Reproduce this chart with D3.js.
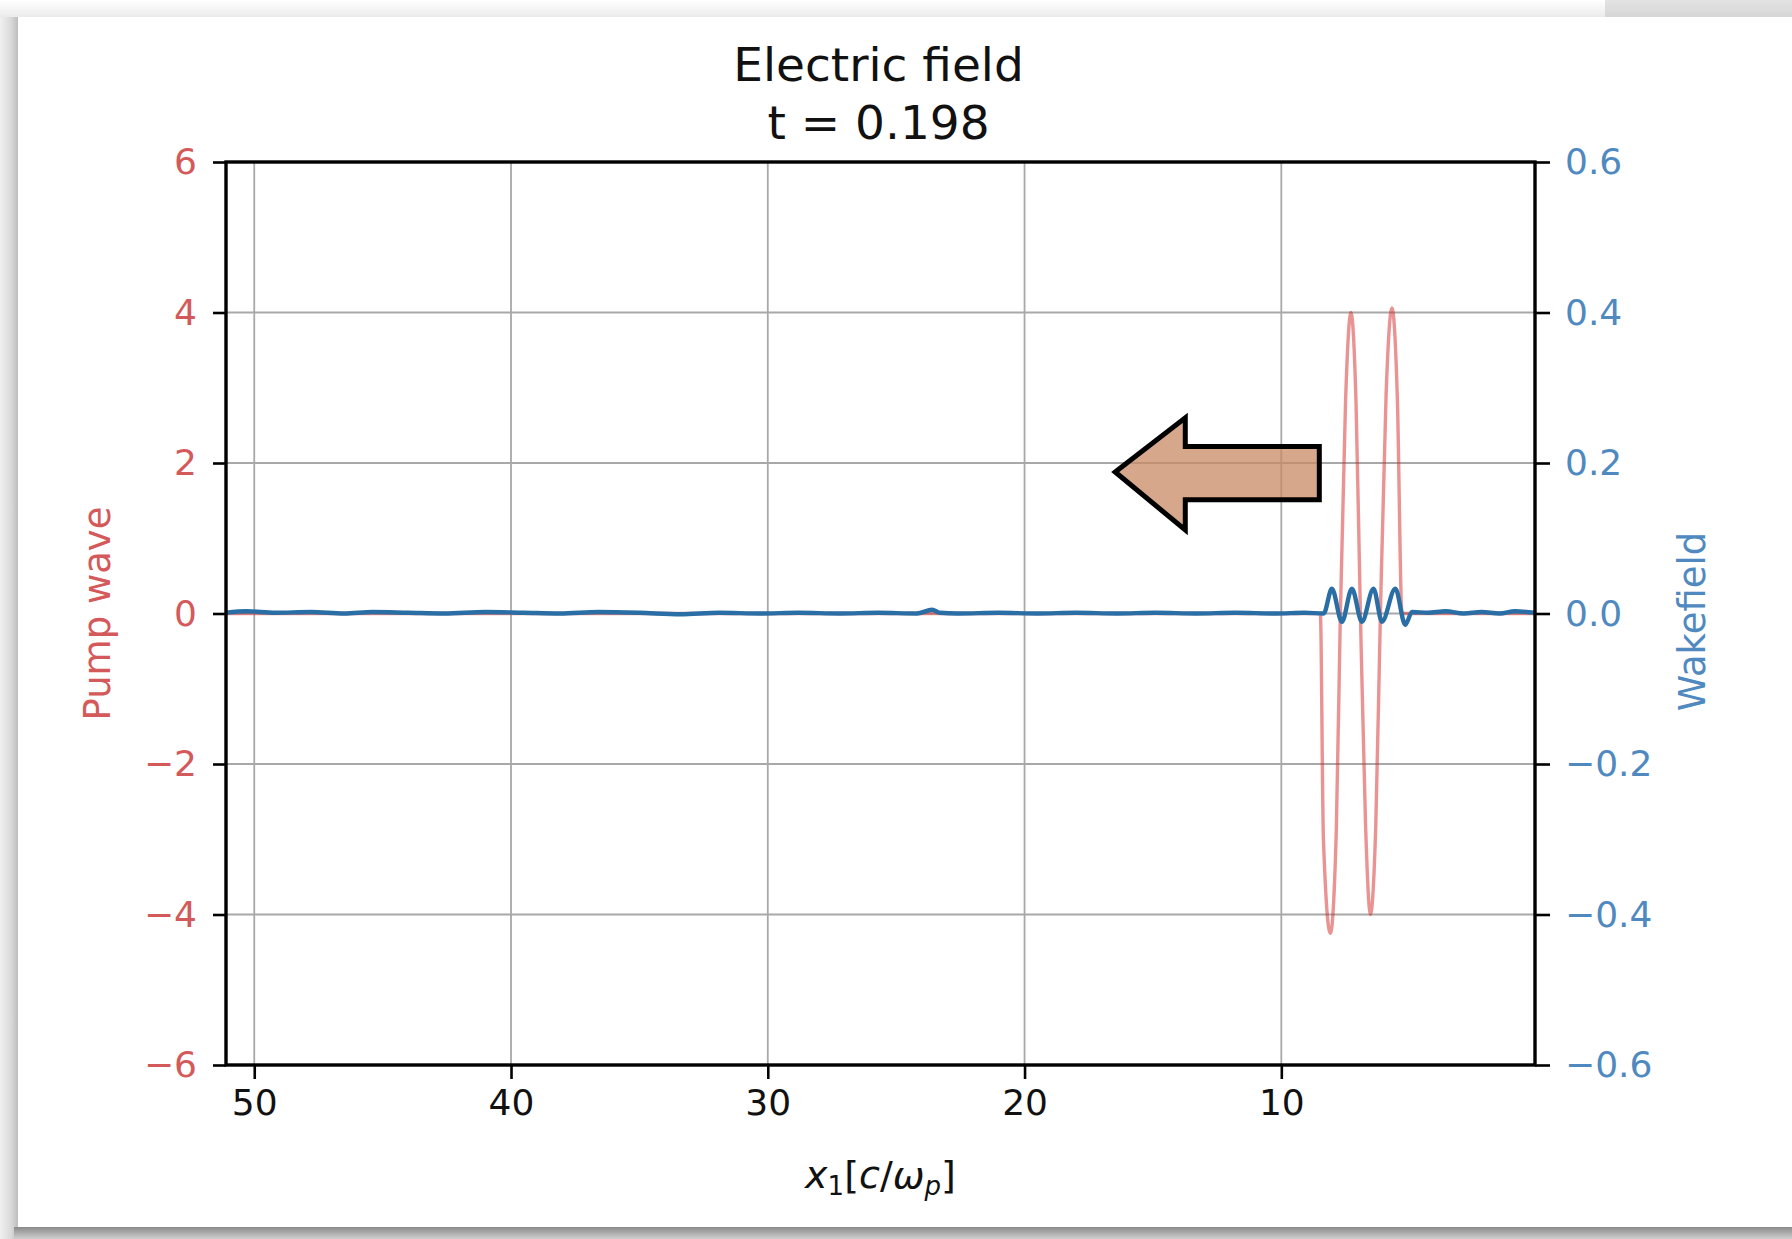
<!DOCTYPE html>
<html>
<head>
<meta charset="utf-8">
<script src="https://cdn.jsdelivr.net/npm/d3@7"></script>
<style>
  html, body { margin: 0; padding: 0; background: #ececec; }
  svg { display: block; }
  text { font-family: "DejaVu Sans", sans-serif; }
</style>
</head>
<body>
<script>
// ---------------- data ----------------
const title1 = "Electric field";
const title2 = "t = 0.198";
const xTicks = [50, 40, 30, 20, 10];
const pumpTicks = [-6, -4, -2, 0, 2, 4, 6];
const wakeTicks = [-0.6, -0.4, -0.2, 0.0, 0.2, 0.4, 0.6];

// Pump wave (left axis)
const pumpX = [51.1, 30, 9.0, 8.48, 8.36, 8.09, 7.86, 7.70, 7.50, 7.29, 7.09, 6.92, 6.72, 6.53, 6.32, 6.14, 5.92, 5.69, 5.48, 5.30, 4.0, 0.12];
const pumpY = [0, 0, 0, 0, -3.0, -4.25, -2.9, 0, 2.8, 4.0, 2.8, 0, -2.8, -4.0, -2.8, 0, 2.9, 4.06, 2.85, 0, 0, 0];

// Wakefield (right axis)
const wakeX = [51.1, 50.3, 49.2, 47.8, 46.5, 45.4, 44.0, 42.6, 41.0, 39.5, 38.1, 36.6, 35.0, 33.4, 31.9, 30.3, 28.8, 27.2, 25.7, 24.2, 23.6, 23.3, 22.6, 21.0, 19.5, 18.0, 16.4, 14.9, 13.3, 11.8, 10.2, 9.1,
               8.35, 8.03, 7.64, 7.25, 6.86, 6.41, 6.08, 5.56, 5.17, 4.91,
               4.3, 3.6, 2.9, 2.2, 1.5, 0.9, 0.12];
const wakeY = [0.001, 0.003, 0.001, 0.002, 0.000, 0.002, 0.001, 0.000, 0.002, 0.001, 0.000, 0.002, 0.001, -0.001, 0.001, 0.000, 0.001, 0.000, 0.001, 0.000, 0.005, 0.001, 0.000, 0.001, 0.000, 0.001, 0.000, 0.001, 0.000, 0.001, 0.000, 0.001,
               0.000, 0.033, -0.011, 0.033, -0.011, 0.033, -0.011, 0.033, -0.015, 0.002,
               0.001, 0.003, 0.000, 0.002, 0.000, 0.003, 0.001];

// direction arrow annotation (data coords: x, pump value)
const arrowPts = [[16.47, 1.88], [13.74, 2.60], [13.74, 2.22], [8.52, 2.22], [8.52, 1.51], [13.74, 1.51], [13.74, 1.11]];

// ---------------- layout ----------------
const W = 1792, H = 1239;
const L = 226, R = 1535, T = 162, B = 1065;

const svg = d3.select("body").append("svg").attr("width", W).attr("height", H);
const defs = svg.append("defs");

function grad(id, x2, y2, stops) {
  const g = defs.append("linearGradient").attr("id", id)
    .attr("x1", 0).attr("y1", 0).attr("x2", x2).attr("y2", y2);
  stops.forEach(s => g.append("stop").attr("offset", s[0]).attr("stop-color", s[1]));
}
grad("gTop", 0, 1, [[0, "#ffffff"], [1, "#ebebeb"]]);
grad("gTopR", 0, 1, [[0, "#e3e3e4"], [1, "#d6d6d7"]]);
grad("gLeft", 1, 0, [[0, "#f0f0f0"], [0.6, "#dadada"], [1, "#bdbdbd"]]);
grad("gBot", 0, 1, [[0, "#8a8a8a"], [1, "#cfcfcf"]]);

// page / card
svg.append("rect").attr("x", 0).attr("y", 0).attr("width", W).attr("height", H).attr("fill", "#ececec");
svg.append("rect").attr("x", 0).attr("y", 0).attr("width", 1605).attr("height", 17).attr("fill", "url(#gTop)");
svg.append("rect").attr("x", 1605).attr("y", 0).attr("width", W - 1605).attr("height", 17).attr("fill", "url(#gTopR)");
svg.append("rect").attr("x", 0).attr("y", 17).attr("width", 18).attr("height", H - 17).attr("fill", "url(#gLeft)");
svg.append("rect").attr("x", 14).attr("y", 1227).attr("width", W - 14).attr("height", 12).attr("fill", "url(#gBot)");
svg.append("rect").attr("x", 18).attr("y", 17).attr("width", W - 18).attr("height", 1210).attr("fill", "#ffffff");

const x = d3.scaleLinear().domain([51.1, 0.12]).range([L, R]);
const yP = d3.scaleLinear().domain([-6, 6]).range([B, T]);
const yW = d3.scaleLinear().domain([-0.6, 0.6]).range([B, T]);

const red = "#d62728", redTxt = "#d4595a";
const blue = "#2a6ea6", blueTxt = "#4f89bf";

// grid
const grid = svg.append("g").attr("stroke", "#a8a8a8").attr("stroke-width", 1.8);
xTicks.forEach(v => grid.append("line").attr("x1", x(v)).attr("x2", x(v)).attr("y1", T).attr("y2", B));
pumpTicks.slice(1, -1).forEach(v => grid.append("line").attr("x1", L).attr("x2", R).attr("y1", yP(v)).attr("y2", yP(v)));

// clip
defs.append("clipPath").attr("id", "clip").append("rect").attr("x", L).attr("y", T).attr("width", R - L).attr("height", B - T);

// pump line
const pumpData = pumpX.map((v, i) => [v, pumpY[i]]);
svg.append("path").datum(pumpData).attr("clip-path", "url(#clip)")
  .attr("fill", "none").attr("stroke", red).attr("stroke-opacity", 0.5).attr("stroke-width", 3.4)
  .attr("d", d3.line().x(d => x(d[0])).y(d => yP(d[1])).curve(d3.curveMonotoneX));

// wake line
const wakeData = wakeX.map((v, i) => [v, wakeY[i]]);
svg.append("path").datum(wakeData).attr("clip-path", "url(#clip)")
  .attr("fill", "none").attr("stroke", blue).attr("stroke-width", 4.4).attr("stroke-linejoin", "round")
  .attr("d", d3.line().x(d => x(d[0])).y(d => yW(d[1])).curve(d3.curveMonotoneX));

// axes
const axB = svg.append("g").attr("transform", `translate(0,${B})`)
  .call(d3.axisBottom(x).tickValues(xTicks).tickSize(14).tickPadding(10).tickFormat(d3.format("d")));
const axL = svg.append("g").attr("transform", `translate(${L},0)`)
  .call(d3.axisLeft(yP).tickValues(pumpTicks).tickSize(13).tickPadding(16).tickFormat(d => d < 0 ? "\u2212" + Math.abs(d) : String(d)));
const axR = svg.append("g").attr("transform", `translate(${R},0)`)
  .call(d3.axisRight(yW).tickValues(wakeTicks).tickSize(15).tickPadding(15).tickFormat(d => (d < 0 ? "\u2212" : "") + Math.abs(d).toFixed(1)));

[axB, axL, axR].forEach(a => {
  a.select(".domain").remove();
  a.selectAll(".tick line").attr("stroke", "#000").attr("stroke-width", 2.6);
  a.selectAll(".tick text").attr("font-family", "DejaVu Sans").attr("font-size", 36);
});
axB.selectAll(".tick text").attr("fill", "#111");
axL.selectAll(".tick text").attr("fill", redTxt);
axR.selectAll(".tick text").attr("fill", blueTxt);

// spines
svg.append("rect").attr("x", L).attr("y", T).attr("width", R - L).attr("height", B - T)
  .attr("fill", "none").attr("stroke", "#000").attr("stroke-width", 3.4);

// arrow annotation
svg.append("path").datum(arrowPts)
  .attr("d", d3.line().x(d => x(d[0])).y(d => yP(d[1])).curve(d3.curveLinearClosed))
  .attr("fill", "#c98a64").attr("fill-opacity", 0.75)
  .attr("stroke", "#000").attr("stroke-width", 5).attr("stroke-linejoin", "miter");

// titles
const cx = (L + R) / 2;
svg.append("text").attr("x", cx - 2).attr("y", 81).attr("text-anchor", "middle")
  .attr("font-size", 47).attr("fill", "#111").text(title1);
svg.append("text").attr("x", cx - 2).attr("y", 139).attr("text-anchor", "middle")
  .attr("font-size", 47).attr("fill", "#111").text(title2);

// axis labels
svg.append("text").attr("transform", `translate(97,${(T + B) / 2}) rotate(-90)`)
  .attr("text-anchor", "middle").attr("dy", "0.35em").attr("font-size", 37).attr("fill", redTxt).text("Pump wave");
svg.append("text").attr("transform", `translate(1692,${(T + B) / 2 + 8}) rotate(-90)`)
  .attr("text-anchor", "middle").attr("dy", "0.35em").attr("font-size", 37).attr("fill", blueTxt).text("Wakefield");

const xl = svg.append("text").attr("x", cx).attr("y", 1188).attr("text-anchor", "middle")
  .attr("font-size", 38).attr("fill", "#111");
xl.append("tspan").attr("font-style", "italic").text("x");
xl.append("tspan").attr("font-size", 26).attr("dy", 7).text("1");
xl.append("tspan").attr("dy", -7).text("[");
xl.append("tspan").attr("font-style", "italic").text("c");
xl.append("tspan").text("/");
xl.append("tspan").attr("font-style", "italic").text("\u03c9");
xl.append("tspan").attr("font-style", "italic").attr("font-size", 26).attr("dy", 7).text("p");
xl.append("tspan").attr("dy", -7).text("]");
</script>
</body>
</html>
